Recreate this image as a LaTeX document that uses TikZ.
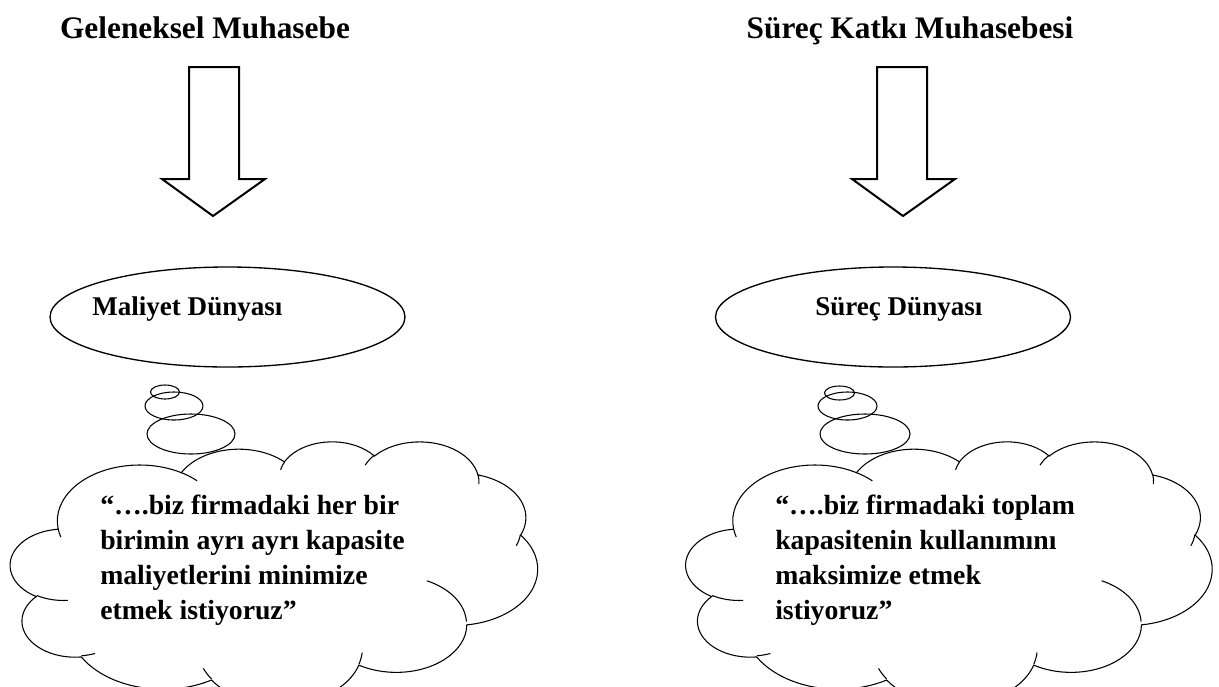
\documentclass[tikz,border=0pt]{standalone}
\usepackage{fontspec}
\setmainfont{Liberation Serif}
\usetikzlibrary{shapes.geometric,positioning}

% bulut: 432 x 432 birimlik kutu, y asagi dogru
\newcommand{\bulut}[1]{%
  \begin{scope}[#1]
    \draw[bulutcizgi] (39.00,143.70)
      arc[x radius=67.53, y radius=91.90, start angle=-187.74, end angle=-59.64]
      arc[x radius=53.33, y radius=72.67, start angle=-152.04, end angle=-45.46]
      arc[x radius=43.65, y radius=59.45, start angle=-153.49, end angle=-37.33]
      arc[x radius=48.57, y radius=65.95, start angle=-139.72, end angle=-10.21]
      arc[x radius=53.33, y radius=72.73, start angle=-74.77, end angle=23.21]
      arc[x radius=67.75, y radius=92.20, start angle=-37.53, end angle=81.86]
      arc[x radius=57.85, y radius=78.67, start angle=0.46, end angle=121.98]
      arc[x radius=67.52, y radius=92.15, start angle=16.84, end angle=146.23]
      arc[x radius=77.20, y radius=105.43, start angle=58.98, end angle=150.19]
      arc[x radius=43.60, y radius=59.18, start angle=83.31, end angle=223.11]
      arc[x radius=43.45, y radius=59.45, start angle=120.36, end angle=264.11]
      -- cycle;
    % ic kivrimlar
    \draw[bulutcizgi]
      (46.93,261.77) arc[x radius=43.45, y radius=59.45, start angle=85.55, end angle=120.36]
      (69.28,348.99) arc[x radius=43.60, y radius=59.18, start angle=68.23, end angle=83.31]
      (164.78,390.90) arc[x radius=67.52, y radius=92.15, start angle=146.23, end angle=158.47]
      (288.27,347.51) arc[x radius=67.52, y radius=92.15, start angle=4.74, end angle=16.84]
      (341.29,229.54) arc[x radius=57.85, y radius=78.67, start angle=-64.03, end angle=-2.63]
      (417.98,153.54) arc[x radius=53.33, y radius=72.73, start angle=6.42, end angle=21.41]
      (383.24,54.26) arc[x radius=48.57, y radius=65.95, start angle=-10.20, end angle=4.23]
      (290.78,39.52) arc[x radius=48.57, y radius=65.95, start angle=-156.29, end angle=-139.16]
      (221.41,47.20) arc[x radius=43.65, y radius=59.45, start angle=-167.73, end angle=-154.20]
      (140.00,51.92) arc[x radius=67.53, y radius=91.90, start angle=-59.64, end angle=-45.74]
      (41.27,157.89) arc[x radius=67.53, y radius=91.90, start angle=163.20, end angle=172.26];
  \end{scope}}

\begin{document}
\begin{tikzpicture}[x=0.75pt, y=-0.75pt,
    baslik/.style={font=\fontsize{23.5pt}{28pt}\selectfont\bfseries, inner sep=0pt, anchor=base},
    dunya/.style={ellipse, draw, line width=1pt, minimum width=266.25pt,
                  minimum height=75pt, inner sep=0pt},
    etiket/.style={font=\fontsize{20.3pt}{24pt}\selectfont\bfseries, inner sep=0pt, anchor=base west},
    dusunce/.style={font=\fontsize{20.8pt}{26.25pt}\selectfont\bfseries, align=left,
                    inner sep=0pt, anchor=north west},
    blok/.style={draw, line width=1.5pt, line join=miter},
    kabarcik/.style={draw, line width=0.8pt},
    bulutcizgi/.style={line width=0.8pt}]

  \useasboundingbox (0,0) rectangle (1219,686);
  \clip (0,0) rectangle (1219,686);

  % basliklar
  \node[baslik] (geleneksel) at (205,38) {Geleneksel Muhasebe};
  \node[baslik] (surec)      at (910,38) {Süreç Katkı Muhasebesi};

  % blok oklar
  \draw[blok] (189,67) -- (239,67) -- (239,179) -- (265,179) -- (213,216)
              -- (162,179) -- (189,179) -- cycle;
  \draw[blok] (877,67) -- (927,67) -- (927,179) -- (955,179) -- (903,216)
              -- (852,179) -- (877,179) -- cycle;

  % dunyalar
  \node[dunya] (maliyet) at (227.5,317) {};
  \node[dunya] (surecd)  at (893,317) {};
  \node[etiket] (maliyetyazi) at (92,315)  {Maliyet Dünyası};
  \node[etiket] (surecyazi)   at (815,315) {Süreç Dünyası};

  % kabarciklar
  \draw[kabarcik] (165,392) ellipse [x radius=14.5, y radius=7];
  \draw[kabarcik] (174,406) ellipse [x radius=29, y radius=14];
  \draw[kabarcik] (191,434) ellipse [x radius=44, y radius=20];
  \draw[kabarcik] (839.5,393) ellipse [x radius=15, y radius=7];
  \draw[kabarcik] (847.5,406) ellipse [x radius=29.5, y radius=14];
  \draw[kabarcik] (865,434) ellipse [x radius=45, y radius=20];

  % bulutlar
  \bulut{shift={(10.5,441)}, xscale=527/432, yscale=263/432}
  \bulut{shift={(686,441)}, xscale=526/432, yscale=263/432}

  \node[dusunce] (sol) at (100,495)
    {“….biz firmadaki her bir\\birimin ayrı ayrı kapasite\\maliyetlerini minimize\\etmek istiyoruz”};
  \node[dusunce] (sag) at (775,495)
    {“….biz firmadaki toplam\\kapasitenin kullanımını\\maksimize etmek\\istiyoruz”};

\end{tikzpicture}
\end{document}
